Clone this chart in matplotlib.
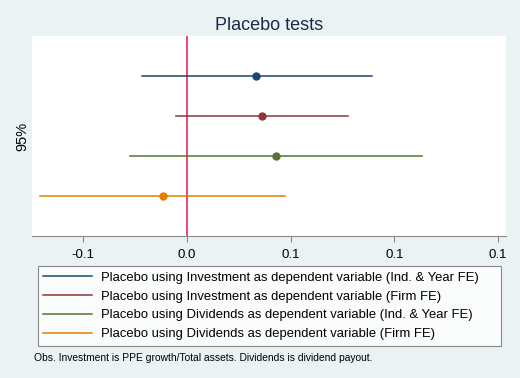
import matplotlib
matplotlib.use("Agg")
import matplotlib.pyplot as plt
from matplotlib.lines import Line2D

plt.rcParams['font.family'] = ['Liberation Sans', 'DejaVu Sans']

# estimates and 95% CIs
labels = [
    "Placebo using Investment as dependent variable (Ind. & Year FE)",
    "Placebo using Investment as dependent variable (Firm FE)",
    "Placebo using Dividends as dependent variable (Ind. & Year FE)",
    "Placebo using Dividends as dependent variable (Firm FE)",
]
coef = [0.0335, 0.0362, 0.0428, -0.0116]
ci_low = [-0.0218, -0.0052, -0.0276, -0.0707]
ci_high = [0.0894, 0.0775, 0.1133, 0.0473]
colors = ["#1a476f", "#90353b", "#55752f", "#e37e00"]
xticks = [-0.05, 0.0, 0.05, 0.1, 0.15]
note = "Obs. Investment is PPE growth/Total assets. Dividends is dividend payout."

bg = "#eaf2f3"
W, H = 520, 378
fig = plt.figure(figsize=(W / 100, H / 100), dpi=100, facecolor=bg)
ax = fig.add_axes([32 / W, (H - 236) / H, 474 / W, 200 / H])
ax.set_facecolor("white")

ax.axvline(0, color="#e2184f", lw=1.1, zorder=1)
for i in range(len(coef)):
    y = i + 1
    ax.plot([ci_low[i], ci_high[i]], [y, y], color=colors[i], lw=1.1, zorder=2)
    ax.plot(coef[i], y, "o", color=colors[i], ms=5, zorder=3)

ax.set_xlim(-0.0747, 0.1538)
ax.set_ylim(5, 0)
ax.set_xticks(xticks)
ax.set_xticklabels(["%.1f" % v for v in xticks])
ax.set_yticks([])
for s in ["top", "right", "left"]:
    ax.spines[s].set_visible(False)
ax.spines["bottom"].set_color("#8c8c8c")
ax.tick_params(axis="x", length=4, color="#8c8c8c", labelsize=9.5, pad=5)
ax.set_ylabel("95%", fontsize=10.5, labelpad=2)
ax.set_title("Placebo tests", fontsize=13, color="#1a2a4a", pad=4)

handles = [Line2D([0], [0], color=c, lw=1.1) for c in colors]
leg = fig.legend(handles, labels, loc="upper left",
                 bbox_to_anchor=(38 / W, (H - 344) / H, 463 / W, 78 / H),
                 mode="expand", fontsize=9.4, frameon=True, fancybox=False,
                 handlelength=3.7, labelspacing=0.52, borderpad=0.42,
                 handletextpad=0.7, borderaxespad=0)
leg.get_frame().set_edgecolor("#6e6e6e")
leg.get_frame().set_linewidth(0.8)

fig.text(34 / W, 1 - 358 / H, note, fontsize=7.35, va="center", ha="left")

fig.savefig("out.png", dpi=100, facecolor=bg)
